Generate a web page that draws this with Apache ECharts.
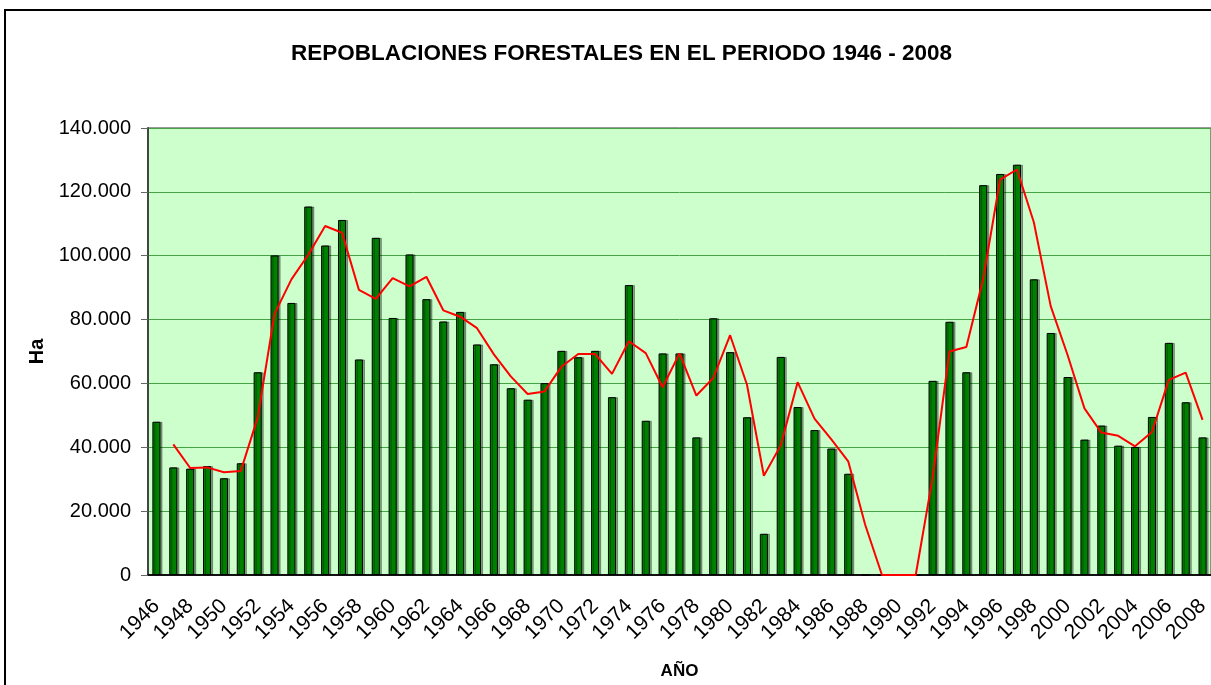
<!DOCTYPE html>
<html>
<head>
<meta charset="utf-8">
<title>Repoblaciones forestales 1946 - 2008</title>
<script src="https://cdn.jsdelivr.net/npm/echarts@6/dist/echarts.min.js"></script>
<style>
  html, body { margin: 0; padding: 0; background: #fff; }
  #chart { width: 1211px; height: 685px; }
</style>
</head>
<body>
<div id="chart"></div>
<script>
// años (categorías del eje X)
const years = [
  '1946', '1947', '1948', '1949', '1950', '1951', '1952', '1953', '1954', '1955',
  '1956', '1957', '1958', '1959', '1960', '1961', '1962', '1963', '1964', '1965',
  '1966', '1967', '1968', '1969', '1970', '1971', '1972', '1973', '1974', '1975',
  '1976', '1977', '1978', '1979', '1980', '1981', '1982', '1983', '1984', '1985',
  '1986', '1987', '1988', '1989', '1990', '1991', '1992', '1993', '1994', '1995',
  '1996', '1997', '1998', '1999', '2000', '2001', '2002', '2003', '2004', '2005',
  '2006', '2007', '2008',
]

// hectáreas repobladas por año (barras)
const hectareas = [
  48000, 33700, 33300, 34100, 30300, 35000, 63500, 100100, 85200, 115400,
  103200, 111200, 67500, 105600, 80500, 100400, 86400, 79400, 82400, 72200,
  66000, 58500, 54900, 60100, 70200, 68200, 70200, 55700, 90800, 48300,
  69400, 69400, 43100, 80400, 69800, 49400, 12900, 68300, 52600, 45400,
  39600, 31700, 0, 0, 0, 0, 60800, 79300, 63500, 122100,
  125600, 128500, 92600, 75800, 62000, 42400, 46800, 40500, 40100, 49500,
  72700, 54100, 43100,
]

// media móvil de 2 periodos (línea roja)
const mediaMovil = [
  null, 40900, 33500, 33700, 32200, 32600, 49300, 81800, 92600, 100300,
  109300, 107200, 89300, 86500, 93000, 90400, 93400, 82900, 80900, 77300,
  69100, 62200, 56700, 57500, 65200, 69200, 69200, 63000, 73200, 69500,
  58800, 69400, 56200, 61700, 75100, 59600, 31100, 40600, 60400, 49000,
  42500, 35600, 15800, 0, 0, 0, 30400, 70000, 71400, 92800,
  123800, 127000, 110500, 84200, 68900, 52200, 44600, 43600, 40300, 44800,
  61100, 63400, 48600,
]

const yTicks = { min: 0, max: 140000, interval: 20000 }

const fuente = '"Liberation Sans", Arial, sans-serif'

function miles(v) {
  return String(v).replace(/\B(?=(\d{3})+(?!\d))/g, '.')
}

const chart = echarts.init(document.getElementById('chart'), null, { renderer: 'canvas' })

chart.setOption({
  animation: false,
  backgroundColor: '#ffffff',
  title: {
    text: 'REPOBLACIONES FORESTALES EN EL PERIODO 1946 - 2008',
    left: 286,
    top: 37,
    textStyle: {
      fontFamily: fuente,
      fontSize: 22.5,
      fontWeight: 'bold',
      color: '#000',
    },
  },
  // marco exterior del gráfico
  graphic: [
    {
      type: 'rect',
      silent: true,
      z: 100,
      shape: { x: 5, y: 10, width: 1400, height: 900 },
      style: { fill: null, stroke: '#000', lineWidth: 2 },
    },
  ],
  grid: {
    left: 148,
    top: 128,
    right: 0,
    bottom: 110,
    outerBoundsMode: 'none',
    containLabel: false,
    show: true,
    backgroundColor: '#ccffcc',
    borderColor: '#333',
    borderWidth: 1,
  },
  xAxis: {
    type: 'category',
    data: years,
    boundaryGap: true,
    name: 'AÑO',
    nameLocation: 'middle',
    nameGap: 88,
    nameTextStyle: {
      fontFamily: fuente,
      fontSize: 17,
      fontWeight: 'bold',
      color: '#000',
    },
    axisLine: { lineStyle: { color: '#111', width: 2 } },
    axisTick: {
      interval: 0,
      length: 6,
      lineStyle: { color: '#666', width: 1 },
    },
    axisLabel: {
      interval: 1,
      rotate: 45,
      margin: 28,
      fontFamily: fuente,
      fontSize: 21,
      color: '#000',
    },
  },
  yAxis: {
    type: 'value',
    min: yTicks.min,
    max: yTicks.max,
    interval: yTicks.interval,
    name: 'Ha',
    nameLocation: 'middle',
    nameRotate: 90,
    nameGap: 82,
    nameTextStyle: {
      fontFamily: fuente,
      fontSize: 20,
      fontWeight: 'bold',
      color: '#000',
    },
    axisLine: { show: true, lineStyle: { color: '#444', width: 2 } },
    axisTick: { show: true, length: 7, lineStyle: { color: '#666' } },
    axisLabel: {
      margin: 17,
      fontFamily: fuente,
      fontSize: 20,
      color: '#000',
      formatter: (v) => miles(v),
    },
    splitLine: { lineStyle: { color: '#44a444', width: 1 } },
  },
  series: [
    {
      name: 'Superficie repoblada',
      type: 'bar',
      data: hectareas,
      barWidth: '48%',
      itemStyle: {
        color: '#008000',
        borderColor: '#000',
        borderWidth: 1,
        shadowColor: 'rgba(0, 0, 0, 0.35)',
        shadowOffsetX: 2,
        shadowOffsetY: 0,
        shadowBlur: 0,
      },
    },
    {
      name: 'Media móvil',
      type: 'line',
      data: mediaMovil,
      showSymbol: false,
      connectNulls: false,
      lineStyle: { color: '#ff0000', width: 2 },
      itemStyle: { color: '#ff0000' },
      z: 5,
    },
  ],
})

window.addEventListener('resize', () => chart.resize())
</script>
</body>
</html>
